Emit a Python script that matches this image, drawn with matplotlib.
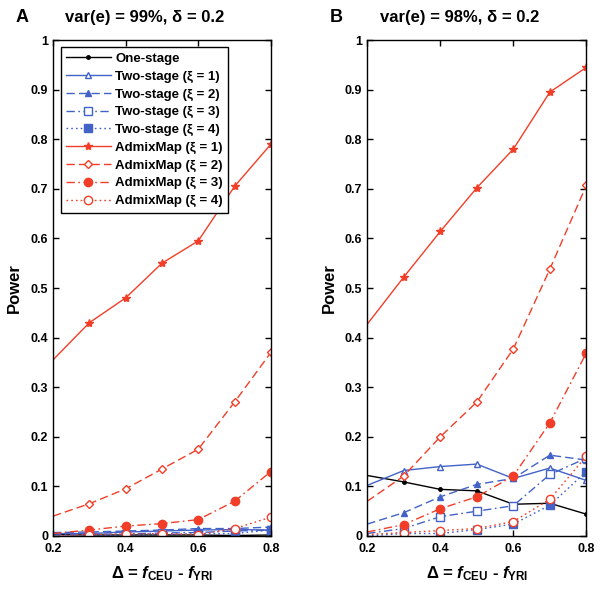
import numpy as np
import matplotlib
matplotlib.use("Agg")
import matplotlib.pyplot as plt

plt.rcParams["font.family"] = ["Liberation Sans", "DejaVu Sans"]
plt.rcParams["font.weight"] = "bold"
plt.rcParams["mathtext.fontset"] = "custom"
plt.rcParams["mathtext.rm"] = "Liberation Sans:bold"
plt.rcParams["mathtext.bf"] = "Liberation Sans:bold"
plt.rcParams["mathtext.it"] = "Liberation Sans:bold:italic"

delta = [0.2, 0.3, 0.4, 0.5, 0.6, 0.7, 0.8]

# panel A: var(e) = 99%
a_one = [0.003, 0.002, 0.002, 0.002, 0.002, 0.001, 0.002]
a_two1 = [0.005, 0.005, 0.008, 0.010, 0.012, 0.013, 0.012]
a_two2 = [0.007, 0.008, 0.010, 0.012, 0.015, 0.015, 0.018]
a_two3 = [0.002, 0.003, 0.004, 0.006, 0.007, 0.010, 0.012]
a_two4 = [0.000, 0.000, 0.002, 0.003, 0.004, 0.005, 0.012]
a_adm1 = [0.355, 0.430, 0.480, 0.550, 0.595, 0.705, 0.790]
a_adm2 = [0.040, 0.065, 0.095, 0.135, 0.175, 0.270, 0.370]
a_adm3 = [0.005, 0.012, 0.020, 0.025, 0.033, 0.070, 0.130]
a_adm4 = [0.000, 0.003, 0.004, 0.005, 0.003, 0.015, 0.038]

# panel B: var(e) = 98%
b_one = [0.122, 0.109, 0.094, 0.091, 0.064, 0.066, 0.044]
b_two1 = [0.102, 0.132, 0.140, 0.145, 0.116, 0.137, 0.112]
b_two2 = [0.024, 0.047, 0.079, 0.104, 0.116, 0.163, 0.153]
b_two3 = [0.005, 0.015, 0.039, 0.050, 0.061, 0.124, 0.157]
b_two4 = [0.000, 0.005, 0.005, 0.013, 0.024, 0.062, 0.130]
b_adm1 = [0.427, 0.522, 0.614, 0.702, 0.780, 0.895, 0.945]
b_adm2 = [0.070, 0.121, 0.200, 0.270, 0.377, 0.538, 0.707]
b_adm3 = [0.008, 0.023, 0.055, 0.079, 0.121, 0.228, 0.369]
b_adm4 = [0.003, 0.007, 0.011, 0.015, 0.029, 0.074, 0.161]

labels = ["One-stage",
          "Two-stage (\u03be = 1)", "Two-stage (\u03be = 2)",
          "Two-stage (\u03be = 3)", "Two-stage (\u03be = 4)",
          "AdmixMap (\u03be = 1)", "AdmixMap (\u03be = 2)",
          "AdmixMap (\u03be = 3)", "AdmixMap (\u03be = 4)"]

blue = "#4262c8"
red = "#f23e28"
dash = (0, (6, 3))
dashdot = (0, (6, 2.5, 1.2, 2.5))
dot = (0, (1.2, 2.2))
styles = [
    dict(color="black", ls="-", marker=".", ms=5),
    dict(color=blue, ls="-", marker="^", ms=5, mfc="white"),
    dict(color=blue, ls=dash, marker="^", ms=5),
    dict(color=blue, ls=dashdot, marker="s", ms=6, mfc="white"),
    dict(color=blue, ls=dot, marker="s", ms=6),
    dict(color=red, ls="-", marker="*", ms=6),
    dict(color=red, ls=dash, marker="D", ms=4, mfc="white"),
    dict(color=red, ls=dashdot, marker="o", ms=6),
    dict(color=red, ls=dot, marker="o", ms=6, mfc="white"),
]

fig = plt.figure(figsize=(6.02, 5.89), dpi=100)
axA = fig.add_axes([0.088, 0.090, 0.362, 0.842])
axB = fig.add_axes([0.610, 0.090, 0.364, 0.842])

panels = [
    (axA, [a_one, a_two1, a_two2, a_two3, a_two4, a_adm1, a_adm2, a_adm3, a_adm4],
     "A", "var(e) = 99%, \u03b4 = 0.2"),
    (axB, [b_one, b_two1, b_two2, b_two3, b_two4, b_adm1, b_adm2, b_adm3, b_adm4],
     "B", "var(e) = 98%, \u03b4 = 0.2"),
]

for ax, series, letter, title in panels:
    for ys, st, lab in zip(series, styles, labels):
        # no marker drawn at the first point (as in the original)
        ax.plot(delta, ys, lw=1, label=lab, markevery=slice(1, None), **st)
    ax.set_xlim(0.2, 0.8)
    ax.set_ylim(0, 1)
    ax.set_xticks([0.2, 0.4, 0.6, 0.8])
    ax.set_xticklabels(["0.2", "0.4", "0.6", "0.8"])
    ax.set_yticks(np.arange(0, 1.01, 0.1))
    ax.set_yticklabels(["0", "0.1", "0.2", "0.3", "0.4", "0.5", "0.6", "0.7", "0.8", "0.9", "1"])
    ax.tick_params(direction="in", top=True, right=True, length=4, labelsize=9, width=1)
    ax.tick_params(axis="x", pad=5)
    for sp in ax.spines.values():
        sp.set_linewidth(1)
    ax.set_ylabel("Power", fontsize=12, fontweight="bold", labelpad=6)
    ax.text(0.5, -0.075, r"$\Delta$ = $\mathit{f}_{\mathrm{CEU}}$ - $\mathit{f}_{\mathrm{YRI}}$",
            transform=ax.transAxes, ha="center", va="center", fontsize=12)
    ax.text(-0.14, 1.045, letter, transform=ax.transAxes, fontsize=13, fontweight="bold",
            ha="center", va="center")
    ax.text(0.42, 1.045, title, transform=ax.transAxes, fontsize=12, fontweight="bold",
            ha="center", va="center")

leg = axA.legend(loc="upper left", bbox_to_anchor=(0.035, 0.985), fontsize=9.5,
                 frameon=True, fancybox=False, edgecolor="black", handlelength=3.4,
                 borderpad=0.4, labelspacing=0.42, handletextpad=0.35, borderaxespad=0,
                 framealpha=1)
leg.get_frame().set_linewidth(1)
for h in leg.legend_handles:
    h.set_markevery([1])

fig.savefig("out.png", dpi=100)
